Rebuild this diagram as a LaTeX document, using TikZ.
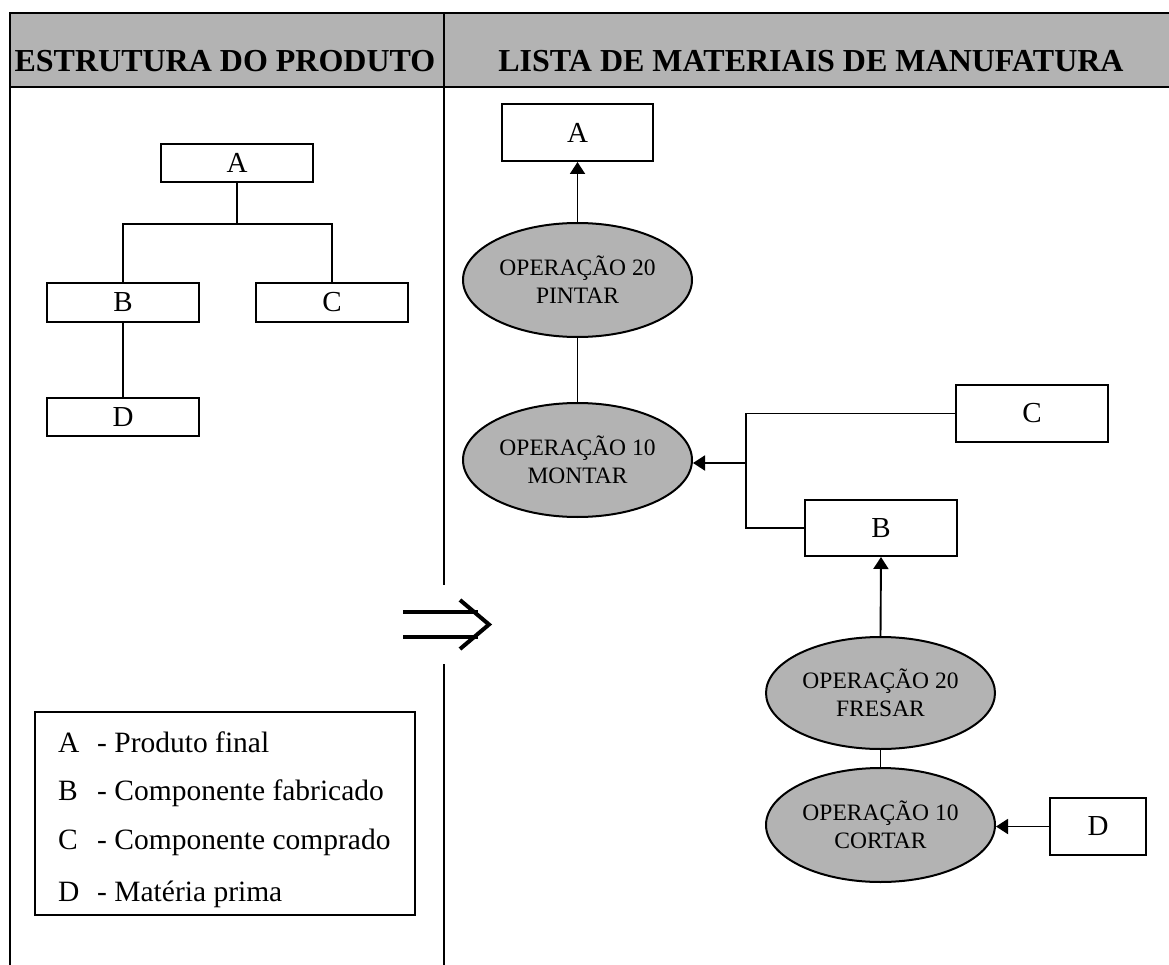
\documentclass[tikz,border=0pt]{standalone}
\usepackage{fontspec}
\setmainfont{Liberation Serif}
\usetikzlibrary{arrows.meta,shapes.geometric}
\definecolor{panelgray}{HTML}{B3B3B3}
\tikzset{
  boxnode/.style={draw,line width=2pt,fill=white,inner sep=0pt,font=\fontsize{29}{33}\selectfont},
  opnode/.style={draw,ellipse,line width=2pt,fill=panelgray,inner sep=0pt,minimum width=229pt,minimum height=114pt,align=center,font=\fontsize{23.5}{28}\selectfont},
  link/.style={line width=1.9pt},
  flow/.style={line width=1.9pt,-{Triangle[length=12pt,width=15pt]}},
  headtext/.style={anchor=base,font=\fontsize{32}{36}\selectfont\bfseries,inner sep=0pt},
  legtext/.style={anchor=base west,inner sep=0pt,font=\fontsize{29.5}{34}\selectfont},
  frame/.style={line width=2pt}
}
\begin{document}
\begin{tikzpicture}[x=1pt,y=-1pt]
\useasboundingbox (0,0) rectangle (1169,965);
% header band and frame
\fill[panelgray] (10,13) rectangle (1169,87);
\draw[frame] (1169,13) -- (10,13) -- (10,965);
\draw[frame] (10,87) -- (1169,87);
\draw[frame] (444,13) -- (444,585);
\draw[frame] (444,664) -- (444,965);
\node[headtext] (h1) at (225,72) {ESTRUTURA DO PRODUTO};
\node[headtext] (h2) at (811,72) {LISTA DE MATERIAIS DE MANUFATURA};
% left: product structure
\node[boxnode,minimum width=152pt,minimum height=38pt] (lA) at (237,163) {A};
\node[boxnode,minimum width=152pt,minimum height=39pt] (lB) at (123,302.5) {B};
\node[boxnode,minimum width=152pt,minimum height=39pt] (lC) at (332,302.5) {C};
\node[boxnode,minimum width=152pt,minimum height=38pt] (lD) at (123,417) {D};
\draw[link] (lA.south) -- ++(0,41) -| (lB.north);
\draw[link] (lA.south) -- ++(0,41) -| (lC.north);
\draw[link] (lB.south) -- (lD.north);
% legend
\node[draw,line width=2pt,minimum width=380pt,minimum height=203pt,inner sep=0pt] (leg) at (225,813.5) {};
\node[legtext] (la) at (58,752) {A};
\node[legtext] (lat) at (97,752) {- Produto final};
\node[legtext] (lb) at (58,800) {B};
\node[legtext] (lbt) at (97,800) {- Componente fabricado};
\node[legtext] (lc) at (58,849) {C};
\node[legtext] (lct) at (97,849) {- Componente comprado};
\node[legtext] (ld) at (58,901) {D};
\node[legtext] (ldt) at (97,901) {- Matéria prima};
% double arrow
\draw[line width=4pt] (403,612) -- (478,612);
\draw[line width=4pt] (403,637) -- (478,637);
\draw[line width=4pt,line join=miter] (460,600) -- (489,624.5) -- (460,649);
% right: manufacturing bill
\node[boxnode,minimum width=151pt,minimum height=57pt] (rA) at (577.5,132.5) {A};
\node[opnode] (e20p) at (577.5,280) {OPERAÇÃO 20\\PINTAR};
\node[opnode] (e10m) at (577.5,460) {OPERAÇÃO 10\\MONTAR};
\node[boxnode,minimum width=152pt,minimum height=57pt] (rC) at (1032,413.5) {C};
\node[boxnode,minimum width=152pt,minimum height=56pt] (rB) at (881,528) {B};
\node[opnode,minimum height=112pt] (e20f) at (880.5,693) {OPERAÇÃO 20\\FRESAR};
\node[opnode] (e10c) at (880.5,825) {OPERAÇÃO 10\\CORTAR};
\node[boxnode,minimum width=96pt,minimum height=57pt] (rD) at (1098,826.5) {D};
\coordinate (jn) at (746,463);
\draw[flow] (e20p.north) -- (rA.south);
\draw[link] (e20p.south) -- (e10m.north);
\draw[link] (rC.west) -| (jn);
\draw[link] (rB.west) -| (jn);
\draw[flow] (jn) -- (jn -| e10m.east);
\draw[flow] (e20f.north) -- (rB.south);
\draw[link] (e20f.south) -- (e10c.north);
\draw[flow] (rD.west) -- (rD.west -| e10c.east);
\end{tikzpicture}
\end{document}
